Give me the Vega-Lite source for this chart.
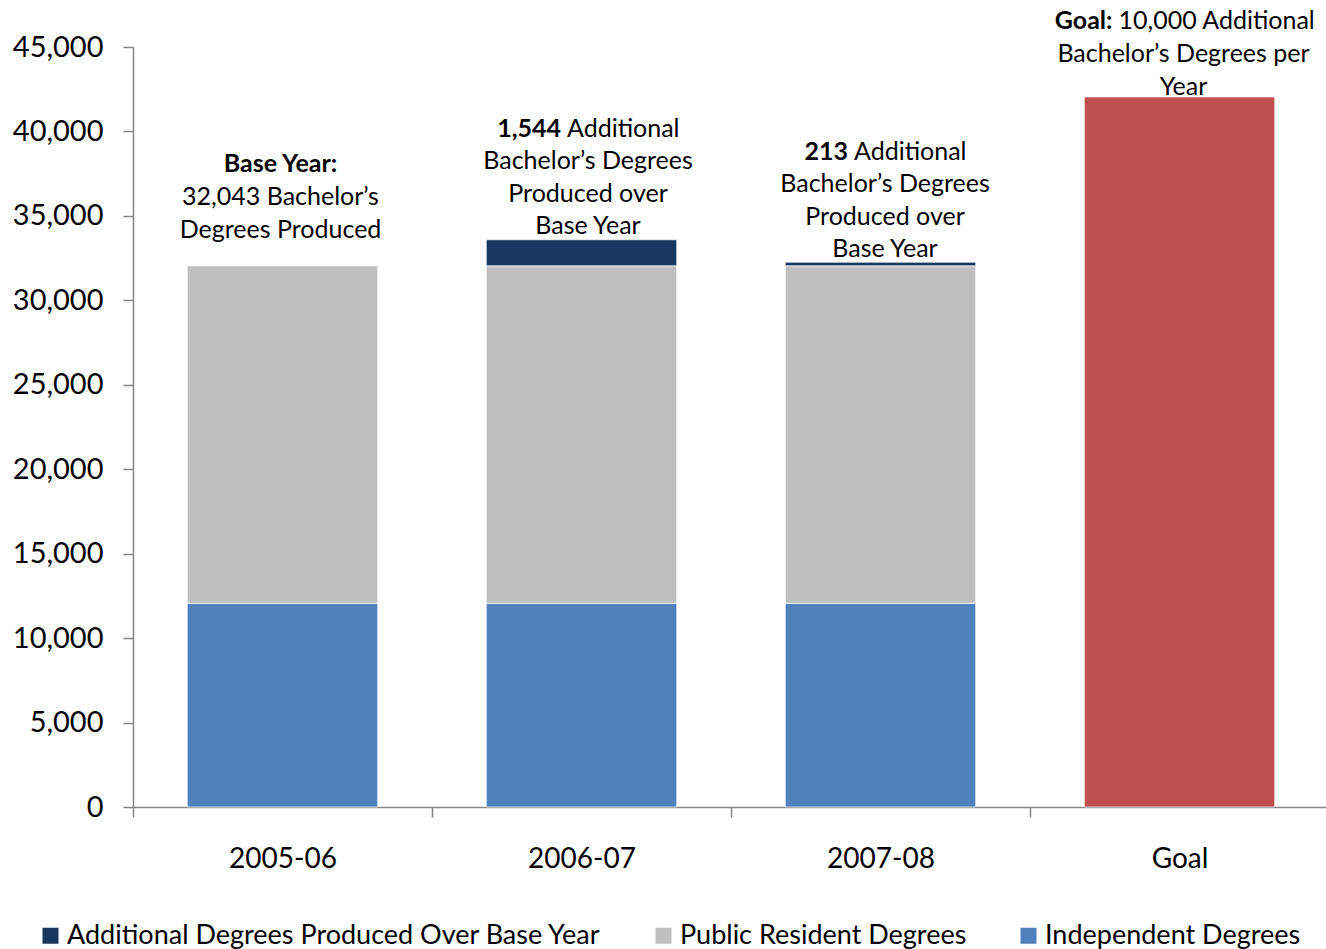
{
  "$schema": "https://vega.github.io/schema/vega-lite/v6.json",
  "autosize": {"type": "none"},
  "width": 1196,
  "height": 760,
  "padding": {"left": 133, "top": 47, "right": 0, "bottom": 142},
  "background": "white",
  "config": {
    "font": "Lato",
    "view": {"stroke": null},
    "text": {"font": "Lato", "fontSize": 25, "color": "#000000", "lineBreak": "|", "lineHeight": 32.5, "baseline": "middle"}
  },
  "datasets": {
    "bars": [
      {"period": "2005-06", "series": "Independent Degrees", "value": 12060},
      {"period": "2005-06", "series": "Public Resident Degrees", "value": 19983},
      {"period": "2006-07", "series": "Independent Degrees", "value": 12060},
      {"period": "2006-07", "series": "Public Resident Degrees", "value": 19983},
      {"period": "2006-07", "series": "Additional Degrees Produced Over Base Year", "value": 1544},
      {"period": "2007-08", "series": "Independent Degrees", "value": 12060},
      {"period": "2007-08", "series": "Public Resident Degrees", "value": 19983},
      {"period": "2007-08", "series": "Additional Degrees Produced Over Base Year", "value": 213},
      {"period": "Goal", "series": "Goal", "value": 42043}
    ],
    "notes": [
      {"period": "2005-06", "total": 32043, "bold": "Base Year:", "rest": "", "body": "32,043 Bachelor’s|Degrees Produced"},
      {"period": "2006-07", "total": 33587, "bold": "1,544", "rest": "Additional", "body": "Bachelor’s Degrees|Produced over|Base Year"},
      {"period": "2007-08", "total": 32256, "bold": "213", "rest": "Additional", "body": "Bachelor’s Degrees|Produced over|Base Year"},
      {"period": "Goal", "total": 42043, "bold": "Goal:", "rest": "10,000 Additional", "body": "Bachelor’s Degrees per|Year"}
    ]
  },
  "encoding": {
    "x": {
      "field": "period", "type": "nominal",
      "sort": ["2005-06", "2006-07", "2007-08", "Goal"],
      "scale": {"domain": ["2005-06", "2006-07", "2007-08", "Goal"], "paddingInner": 0, "paddingOuter": 0},
      "axis": {
        "title": null, "labelAngle": 0, "labelFont": "Lato", "labelFontSize": 28, "labelColor": "#000000",
        "labelPadding": 28, "tickBand": "extent", "tickSize": 10, "tickColor": "#868686", "tickWidth": 1.5,
        "domainColor": "#868686", "domainWidth": 1.5
      }
    }
  },
  "layer": [
    {
      "data": {"name": "bars"},
      "transform": [
        {"calculate": "indexof(['Independent Degrees','Public Resident Degrees','Additional Degrees Produced Over Base Year','Goal'], datum.series)", "as": "stackIdx"}
      ],
      "mark": {"type": "bar", "width": {"band": 0.637}, "stroke": "#ffffff", "strokeWidth": 1, "strokeOpacity": 0.7},
      "encoding": {
        "y": {
          "field": "value", "type": "quantitative", "stack": "zero",
          "scale": {"domain": [0, 45000], "nice": false},
          "axis": {
            "title": null, "values": [0, 5000, 10000, 15000, 20000, 25000, 30000, 35000, 40000, 45000],
            "format": ",d", "grid": false, "labelFont": "Lato", "labelFontSize": 29, "labelColor": "#000000",
            "labelPadding": 20, "tickSize": 10, "tickColor": "#868686", "tickWidth": 1.5,
            "domainColor": "#868686", "domainWidth": 1.5
          }
        },
        "color": {
          "field": "series", "type": "nominal",
          "scale": {
            "domain": ["Additional Degrees Produced Over Base Year", "Public Resident Degrees", "Independent Degrees", "Goal"],
            "range": ["#17375E", "#BFBFBF", "#4F81BD", "#C0504D"]
          },
          "legend": {
            "title": null, "orient": "none", "direction": "horizontal",
            "values": ["Additional Degrees Produced Over Base Year", "Public Resident Degrees", "Independent Degrees"],
            "legendX": -96, "legendY": 875,
            "symbolType": "square", "symbolSize": 256, "symbolStrokeWidth": 0,
            "labelFont": "Lato", "labelFontSize": 27, "labelColor": "#000000", "labelLimit": 700,
            "columnPadding": 48, "labelOffset": 3
          }
        },
        "order": {"field": "stackIdx", "type": "quantitative"}
      }
    },
    {
      "data": {"name": "notes"},
      "transform": [{"filter": "datum.period === '2005-06'"}],
      "layer": [
        {"mark": {"type": "text", "fontWeight": "bold", "align": "center", "dx": -2, "dy": -101.8},
         "encoding": {"y": {"field": "total", "type": "quantitative"}, "text": {"field": "bold"}}},
        {"mark": {"type": "text", "align": "center", "dx": -2, "dy": -68.8},
         "encoding": {"y": {"field": "total", "type": "quantitative"}, "text": {"field": "body"}}}
      ]
    },
    {
      "data": {"name": "notes"},
      "transform": [{"filter": "datum.period === '2006-07'"}],
      "layer": [
        {"mark": {"type": "text", "fontWeight": "bold", "align": "right", "dx": -20.5, "dy": -110.7},
         "encoding": {"y": {"field": "total", "type": "quantitative"}, "text": {"field": "bold"}}},
        {"mark": {"type": "text", "align": "left", "dx": -14.5, "dy": -110.7},
         "encoding": {"y": {"field": "total", "type": "quantitative"}, "text": {"field": "rest"}}},
        {"mark": {"type": "text", "align": "center", "dx": 6.5, "dy": -78.7},
         "encoding": {"y": {"field": "total", "type": "quantitative"}, "text": {"field": "body"}}}
      ]
    },
    {
      "data": {"name": "notes"},
      "transform": [{"filter": "datum.period === '2007-08'"}],
      "layer": [
        {"mark": {"type": "text", "fontWeight": "bold", "align": "right", "dx": -32.5, "dy": -110.2},
         "encoding": {"y": {"field": "total", "type": "quantitative"}, "text": {"field": "bold"}}},
        {"mark": {"type": "text", "align": "left", "dx": -26.5, "dy": -110.2},
         "encoding": {"y": {"field": "total", "type": "quantitative"}, "text": {"field": "rest"}}},
        {"mark": {"type": "text", "align": "center", "dx": 4.5, "dy": -78.2},
         "encoding": {"y": {"field": "total", "type": "quantitative"}, "text": {"field": "body"}}}
      ]
    },
    {
      "data": {"name": "notes"},
      "transform": [{"filter": "datum.period === 'Goal'"}],
      "layer": [
        {"mark": {"type": "text", "fontWeight": "bold", "align": "right", "dx": -67, "dy": -75.9},
         "encoding": {"y": {"field": "total", "type": "quantitative"}, "text": {"field": "bold"}}},
        {"mark": {"type": "text", "align": "left", "dx": -61, "dy": -75.9},
         "encoding": {"y": {"field": "total", "type": "quantitative"}, "text": {"field": "rest"}}},
        {"mark": {"type": "text", "align": "center", "dx": 4, "dy": -42.9},
         "encoding": {"y": {"field": "total", "type": "quantitative"}, "text": {"field": "body"}}}
      ]
    }
  ]
}
